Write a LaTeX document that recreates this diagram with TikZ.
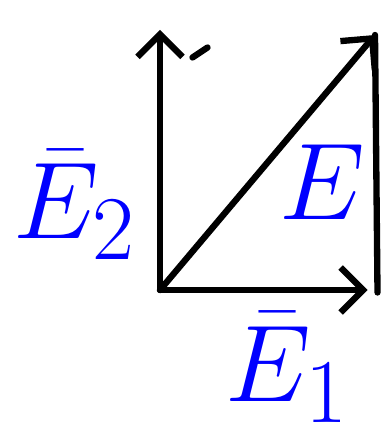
\documentclass[tikz,border=0pt]{standalone}
\usepackage{amsmath, amssymb}
\usepackage{xcolor}
\usetikzlibrary{positioning, arrows.meta}

\begin{document}
\begin{tikzpicture}[
    pen/.style={line width=3.6pt, line cap=round, line join=round, black},
    arr/.style={pen, -{Straight Barb[length=4.5mm, width=9mm, line width=3.6pt]}},
    lbl/.style={text=blue, inner sep=0pt, font=\Huge, scale=2.5, transform shape}
]
    \useasboundingbox (0,0) rectangle (7.78,8.7);
    % corners of the sketch
    \coordinate (O) at (3.2, 2.9);
    \coordinate (X) at (7.35, 2.9);
    \coordinate (Y) at (3.2, 8.1);
    \coordinate (P) at (7.5, 8.0);
    \coordinate (Q) at (7.55, 2.85);
    % axes and the resultant
    \draw[arr] (O) -- (X);
    \draw[arr] (O) -- (Y);
    \draw[arr] (O) -- (P);
    \draw[pen] (P) -- (Q);
    % stray mark
    \coordinate (m1) at (3.85, 7.55);
    \coordinate (m2) at (4.15, 7.75);
    \draw[pen] (m1) -- (m2);
    % labels
    \node[lbl] (e2) at (1.5, 4.6) {$\bar{E}_2$};
    \node[lbl] (e) at (6.45, 5.05) {$E$};
    \node[lbl] (e1) at (5.75, 1.35) {$\bar{E}_1$};
\end{tikzpicture}
\end{document}
